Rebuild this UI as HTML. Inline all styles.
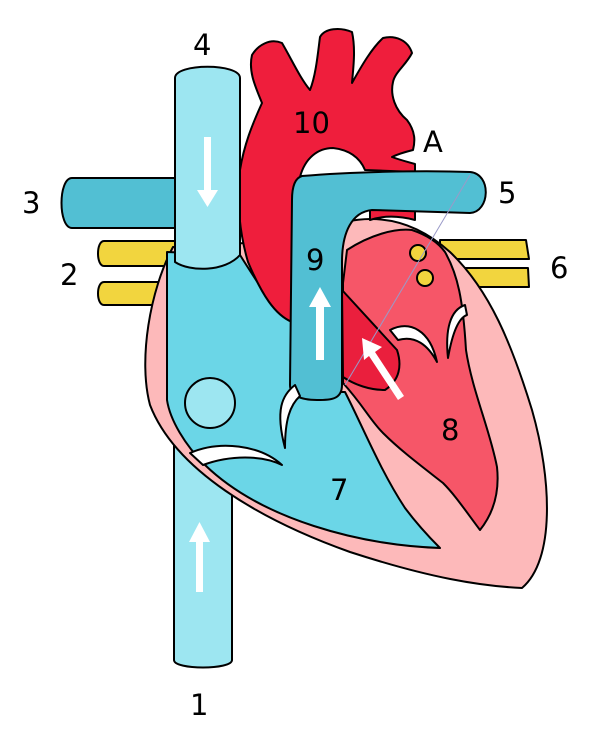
<!DOCTYPE html>
<html><head><meta charset="utf-8"><style>
html,body{margin:0;padding:0;background:#fff;width:600px;height:749px;overflow:hidden}
svg{display:block}
text{font-family:"DejaVu Sans","Liberation Sans",sans-serif;font-size:29px;fill:#000}
</style></head><body>
<svg width="600" height="749" viewBox="0 0 600 749" xmlns="http://www.w3.org/2000/svg">
<g stroke="#000" stroke-width="2" stroke-linejoin="round">
<!-- yellow pulmonary veins -->
<path d="M104,241 L175,241 L175,266 L104,266 C96,266 96,241 104,241 Z" fill="#f2d53e"/>
<path d="M104,282 L165,282 L165,305 L104,305 C96,305 96,282 104,282 Z" fill="#f2d53e"/>
<path d="M440,240 L526,240 L529,259 L440,259 Z" fill="#f2d53e"/>
<path d="M440,268 L528,268 L529,287 L440,287 Z" fill="#f2d53e"/>
<!-- IVC -->
<path d="M174,430 L232,430 L232,660 C232,670 174,670 174,660 Z" fill="#9de6f1"/>
<!-- pulmonary artery left -->
<path d="M72,178 L180,178 L180,228 L72,228 C58,228 58,178 72,178 Z" fill="#52bfd3"/>
<!-- heart outer pink -->
<path d="M173,247 C150,290 138,360 150,405 C175,470 260,520 350,552 C430,578 480,586 522,588 C555,560 552,480 532,410 C512,345 490,290 450,252 C420,225 385,213 345,222 L300,240 Z" fill="#fdb9ba"/>
<!-- blue RA/RV -->
<path d="M167,252 L240,255 C262,290 275,310 292,322 L292,392 L345,392 C362,425 380,470 405,508 C420,528 432,540 440,548 C360,545 262,520 205,465 C185,445 170,420 167,400 Z" fill="#6bd6e7"/>
<!-- red LV -->
<path d="M347,250 C370,235 395,228 412,230 C430,236 440,245 445,252 C458,275 463,300 466,350 C472,390 490,430 497,467 C500,495 492,515 480,530 C465,510 455,495 443,483 C420,465 400,450 383,433 C370,420 363,405 343,383 L343,283 Z" fill="#f65668"/>
<!-- aorta -->
<path d="M240,170 C244,145 252,125 262,103 C256,88 248,72 252,55 C258,45 270,38 282,43 C292,60 300,78 310,90 C316,75 318,52 320,37 C325,28 340,27 352,32 C356,50 353,70 352,83 C362,65 372,48 383,38 C395,35 408,40 412,53 C406,65 395,72 393,82 C390,95 395,110 407,120 C416,132 415,142 413,150 C405,152 396,155 392,157 C400,160 408,162 415,164 L415,172 L365,170 C360,158 350,150 333,148 C318,148 305,158 300,177 L292,200 L292,322 C275,315 262,295 248,262 C240,235 236,200 240,170 Z" fill="#ef1e3c"/>
<path d="M370,205 L415,205 L415,220 C400,216 385,215 370,220 Z" fill="#ef1e3c"/>
<!-- LV outflow -->
<path d="M342,290 L397,350 C402,365 400,380 385,390 C370,390 355,385 343,377 Z" fill="#ea1f3d"/>
<!-- pulmonary trunk -->
<path d="M302,176 C350,172 420,170 470,172 C492,174 490,212 470,213 L372,210 C352,212 342,232 342,262 L342,385 C342,400 330,400 317,400 C300,400 290,395 290,385 L292,200 C292,186 295,178 302,176 Z" fill="#52bfd3"/>
<!-- SVC -->
<path d="M175,78 C175,63 240,63 240,78 L240,255 C225,272 190,272 175,262 Z" fill="#9de6f1"/>
<!-- fossa ovalis -->
<circle cx="210" cy="403" r="25" fill="#9de6f1"/>
<!-- yellow dots -->
<circle cx="418" cy="253" r="8" fill="#f2d53e"/>
<circle cx="425" cy="278" r="8" fill="#f2d53e"/>
<!-- valves -->
<path d="M190,453 C220,440 260,445 282,465 C262,455 230,455 203,465 Z" fill="#fff"/>
<path d="M295,385 C282,395 275,410 285,448 C285,420 290,405 300,396 Z" fill="#fff"/>
<path d="M390,330 C410,320 430,330 437,362 C428,345 415,335 398,340 Z" fill="#fff"/>
<path d="M465,305 C450,310 445,330 448,358 C452,335 458,318 467,315 Z" fill="#fff"/>
</g>
<line x1="470" y1="175" x2="345" y2="385" stroke="#9a9ac8" stroke-width="1"/>
<!-- arrows -->
<g fill="#fff">
<rect x="204" y="137" width="7" height="55"/><path d="M197,190 L218,190 L207.5,207 Z"/>
<rect x="196" y="540" width="7" height="52"/><path d="M189,542 L210,542 L199.5,522 Z"/>
<rect x="316" y="305" width="8" height="55"/><path d="M309,307 L331,307 L320,287 Z"/>
<path d="M398,400 L404,396 L375,352 L382,347 L362,338 L364,360 L369,356 Z"/>
</g>
<text x="193" y="55">4</text>
<text x="293" y="133">10</text>
<text x="423" y="152">A</text>
<text x="22" y="213">3</text>
<text x="498" y="203">5</text>
<text x="60" y="285">2</text>
<text x="550" y="278">6</text>
<text x="306" y="270">9</text>
<text x="441" y="440">8</text>
<text x="330" y="500">7</text>
<text x="190" y="715">1</text>
</svg>
</body></html>
